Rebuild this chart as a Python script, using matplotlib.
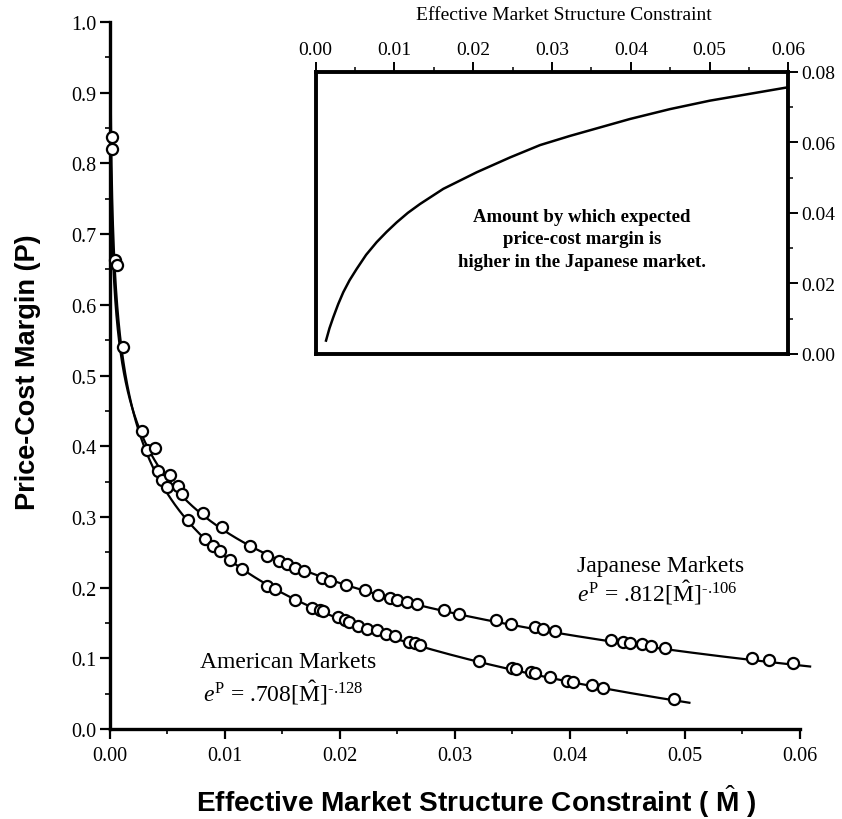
import matplotlib
matplotlib.use("Agg")
import matplotlib.pyplot as plt
import numpy as np
from matplotlib.ticker import MultipleLocator, FormatStrFormatter

# ---------------- data ----------------
# Fitted models printed on the chart: e^P = A * M^B
JP_A, JP_B = 0.812, -0.106
AM_A, AM_B = 0.708, -0.128
JP_CURVE_RANGE = (1e-5, 0.0609)
AM_CURVE_RANGE = (1e-5, 0.0504)

jp_x = [0.00058, 0.00276, 0.00391, 0.00522, 0.00594, 0.00623, 0.00812, 0.00971,
        0.01217, 0.01370, 0.01470, 0.01536, 0.01609, 0.01690, 0.01840, 0.01913,
        0.02055, 0.02215, 0.02333, 0.02435, 0.02493, 0.02587, 0.02667, 0.02903,
        0.03032, 0.03357, 0.03490, 0.03700, 0.03768, 0.03872, 0.04362, 0.04463,
        0.04522, 0.04632, 0.04710, 0.04826, 0.05588, 0.05733, 0.05942]
jp_y = [0.657, 0.421, 0.398, 0.359, 0.343, 0.333, 0.306, 0.286,
        0.259, 0.244, 0.238, 0.233, 0.228, 0.224, 0.213, 0.210,
        0.203, 0.196, 0.190, 0.185, 0.182, 0.179, 0.177, 0.168,
        0.163, 0.154, 0.149, 0.144, 0.141, 0.139, 0.126, 0.123,
        0.121, 0.120, 0.118, 0.115, 0.100, 0.097, 0.093]

am_x = [0.00015, 0.00020, 0.00043, 0.00110, 0.00319, 0.00420, 0.00449, 0.00493,
        0.00681, 0.00826, 0.00899, 0.00957, 0.01043, 0.01145, 0.01370, 0.01435,
        0.01605, 0.01760, 0.01826, 0.01855, 0.01982, 0.02043, 0.02077, 0.02159,
        0.02235, 0.02319, 0.02403, 0.02478, 0.02600, 0.02652, 0.02700, 0.03210,
        0.03493, 0.03536, 0.03658, 0.03696, 0.03826, 0.03971, 0.04029, 0.04197,
        0.04290, 0.04904]
am_y = [0.838, 0.821, 0.663, 0.540, 0.394, 0.365, 0.352, 0.342,
        0.296, 0.269, 0.259, 0.252, 0.239, 0.226, 0.202, 0.198,
        0.183, 0.171, 0.169, 0.167, 0.158, 0.154, 0.151, 0.146,
        0.141, 0.140, 0.134, 0.131, 0.123, 0.122, 0.119, 0.096,
        0.086, 0.085, 0.080, 0.079, 0.074, 0.068, 0.067, 0.062,
        0.058, 0.042]

inset_x = [0.00131, 0.00175, 0.00223, 0.00285, 0.00350, 0.00430, 0.00520, 0.00640,
           0.00774, 0.00900, 0.01028, 0.01170, 0.01324, 0.01620, 0.02044, 0.02467,
           0.02848, 0.03228, 0.03990, 0.04498, 0.05006, 0.05556, 0.06000]
inset_y = [0.0038, 0.0073, 0.0104, 0.0141, 0.0175, 0.0209, 0.0241, 0.0281,
           0.0317, 0.0346, 0.0373, 0.0400, 0.0425, 0.0468, 0.0515, 0.0557,
           0.0592, 0.0618, 0.0666, 0.0694, 0.0718, 0.0739, 0.0756]

main_xticks = [0.00, 0.01, 0.02, 0.03, 0.04, 0.05, 0.06]
main_yticks = [0.0, 0.1, 0.2, 0.3, 0.4, 0.5, 0.6, 0.7, 0.8, 0.9, 1.0]
inset_yticks = [0.00, 0.02, 0.04, 0.06, 0.08]

# ---------------- style ----------------
plt.rcParams["font.family"] = ["Liberation Serif", "DejaVu Serif"]
plt.rcParams["mathtext.fontset"] = "custom"
plt.rcParams["mathtext.rm"] = "Liberation Serif"
plt.rcParams["mathtext.it"] = "Liberation Serif:italic"
plt.rcParams["mathtext.bf"] = "Liberation Sans:bold"

W, H = 842, 820
fig = plt.figure(figsize=(W / 100, H / 100), dpi=100)

def fx(px):
    return px / W

def fy(py):
    return 1 - py / H

# ---------------- main axes ----------------
ax = fig.add_axes([fx(110), fy(730), (817 - 110) / W, (730 - 23) / H])
ax.set_xlim(0, 0.0615)
ax.set_ylim(0, 1.0)

m_jp = np.geomspace(*JP_CURVE_RANGE, 800)
m_am = np.geomspace(*AM_CURVE_RANGE, 800)
ax.plot(m_jp, np.log(JP_A) + JP_B * np.log(m_jp), color="black", lw=1.6, zorder=2)
ax.plot(m_am, np.log(AM_A) + AM_B * np.log(m_am), color="black", lw=1.6, zorder=2)

mk = dict(linestyle="none", marker="o", markersize=8.0, markerfacecolor="white",
          markeredgecolor="black", markeredgewidth=1.6, zorder=3, clip_on=False)
ax.plot(am_x, am_y, **mk)
ax.plot(jp_x, jp_y, **mk)

for s in ["top", "right"]:
    ax.spines[s].set_visible(False)
for s in ["left", "bottom"]:
    ax.spines[s].set_linewidth(2.4)
ax.spines["bottom"].set_bounds(0, 0.06)
ax.spines["left"].set_bounds(0, 1.0)

ax.set_xticks(main_xticks)
ax.set_yticks(main_yticks)
ax.xaxis.set_minor_locator(MultipleLocator(0.005))
ax.yaxis.set_minor_locator(MultipleLocator(0.05))
ax.xaxis.set_major_formatter(FormatStrFormatter("%.2f"))
ax.yaxis.set_major_formatter(FormatStrFormatter("%.1f"))
ax.tick_params(which="major", direction="out", length=7.5, width=1.6, labelsize=14.5)
ax.tick_params(which="minor", direction="out", length=3.5, width=1.2)
ax.tick_params(axis="x", which="major", pad=4.5)
ax.tick_params(axis="y", which="major", pad=2)

fig.text(fx(476), fy(811.7), r"Effective Market Structure Constraint ( $\hat{\mathbf{M}}$ )",
         ha="center", va="baseline", fontsize=20.2, fontweight="bold",
         family=["Liberation Sans", "DejaVu Sans"])
fig.text(fx(28.5), fy(372), "Price-Cost Margin (P)", rotation=90,
         ha="center", va="center", fontsize=19.5, fontweight="bold",
         family=["Liberation Sans", "DejaVu Sans"])

fig.text(fx(577), fy(571.7), "Japanese Markets", ha="left", va="baseline", fontsize=17)
fig.text(fx(577), fy(601.7), r"$\mathit{e}^{\mathrm{P}}$ = .812[$\hat{\mathrm{M}}$]$^{\text{-.106}}$",
         ha="left", va="baseline", fontsize=17)
fig.text(fx(200), fy(668.3), "American Markets", ha="left", va="baseline", fontsize=17)
fig.text(fx(203), fy(701.7), r"$\mathit{e}^{\mathrm{P}}$ = .708[$\hat{\mathrm{M}}$]$^{\text{-.128}}$",
         ha="left", va="baseline", fontsize=17)

# ---------------- inset ----------------
ax2 = fig.add_axes([fx(315.7), fy(355), (788.3 - 315.7) / W, (355 - 72.7) / H])
ax2.set_xlim(0, 0.06)
ax2.set_ylim(0, 0.08)
ax2.plot(inset_x, inset_y, color="black", lw=1.8)
for s in ax2.spines.values():
    s.set_linewidth(2.8)
ax2.xaxis.tick_top()
ax2.yaxis.tick_right()
ax2.set_xticks(main_xticks)
ax2.set_yticks(inset_yticks)
ax2.xaxis.set_minor_locator(MultipleLocator(0.005))
ax2.yaxis.set_minor_locator(MultipleLocator(0.01))
ax2.xaxis.set_major_formatter(FormatStrFormatter("%.2f"))
ax2.yaxis.set_major_formatter(FormatStrFormatter("%.2f"))
ax2.tick_params(which="major", direction="out", length=7, width=1.4, labelsize=14)
ax2.tick_params(which="minor", direction="out", length=3.5, width=1.1)
ax2.tick_params(axis="x", which="major", pad=3)
ax2.tick_params(axis="y", which="major", pad=2)

fig.text(fx(563.5), fy(16), "Effective Market Structure Constraint",
         ha="center", va="center", fontsize=14)
fig.text(fx(582), fy(240), "Amount by which expected\nprice-cost margin is\nhigher in the Japanese market.",
         ha="center", va="center", multialignment="center", fontsize=13.5,
         fontweight="bold", linespacing=1.4)

fig.savefig("out.png", dpi=100)
